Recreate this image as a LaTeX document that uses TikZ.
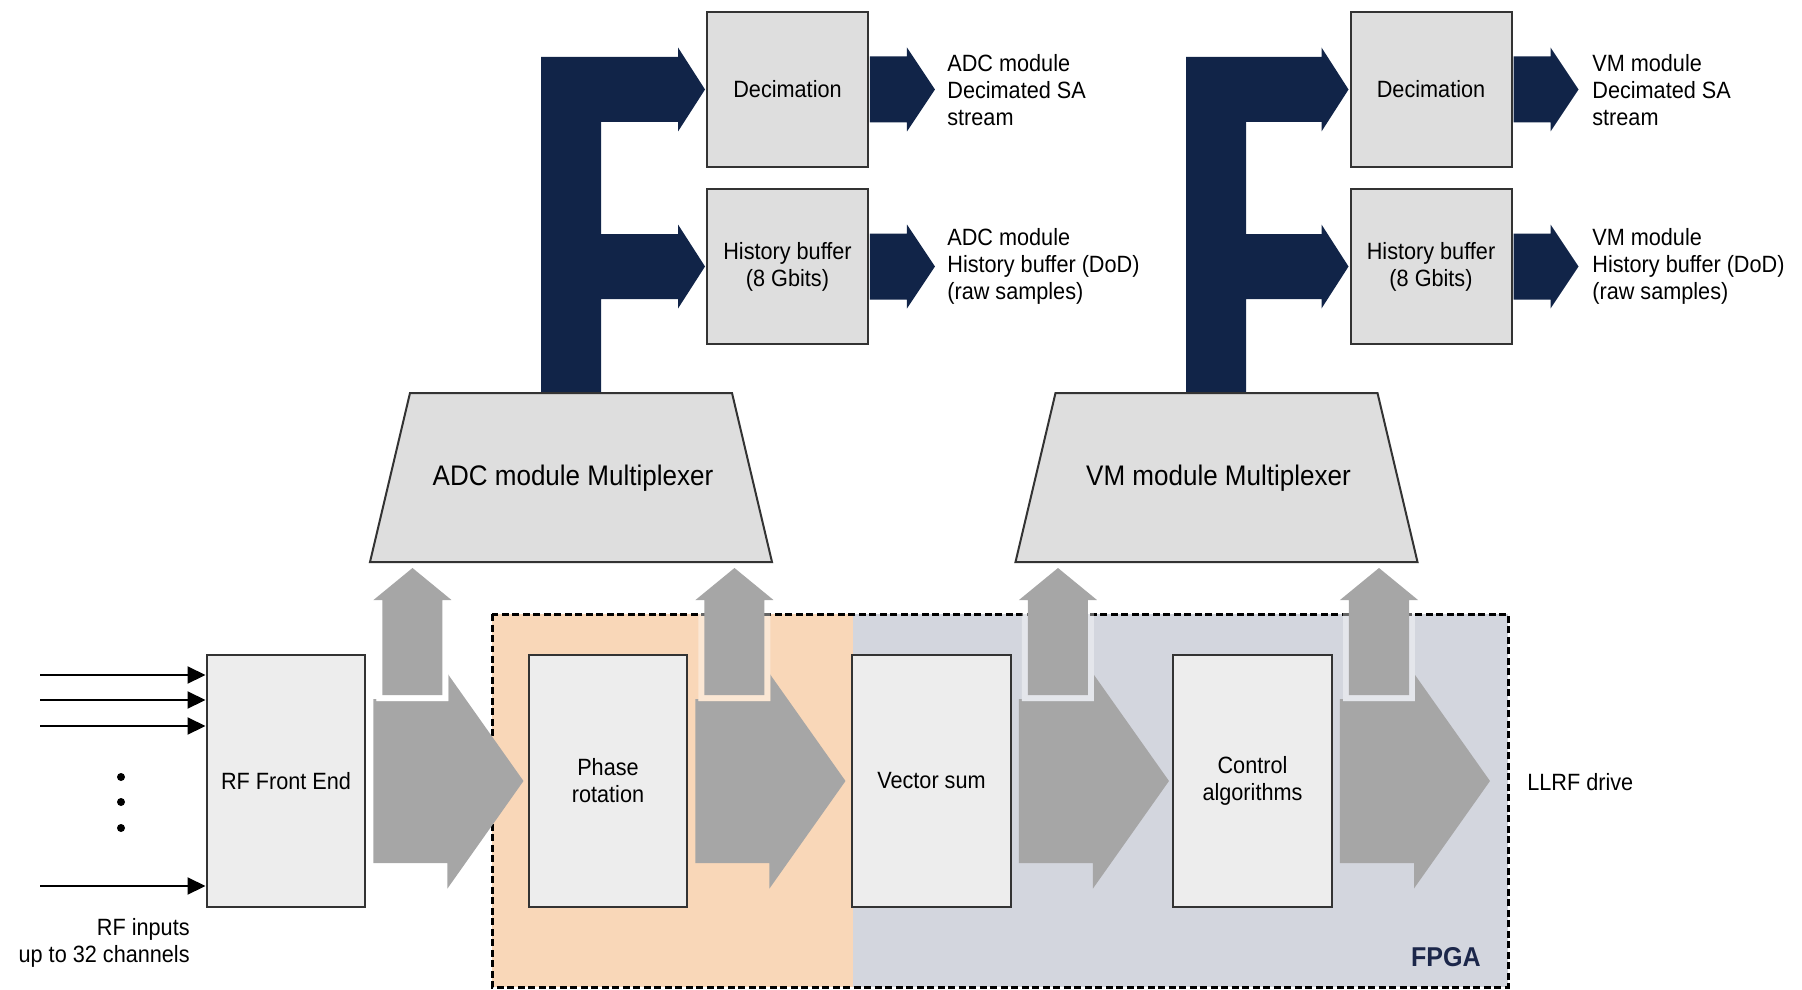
\documentclass[tikz,border=0pt]{standalone}
\usepackage{fontspec}
\setmainfont{Liberation Sans}[FakeStretch=0.92]
\usetikzlibrary{calc,arrows.meta}

\definecolor{boxlight}{RGB}{237,237,237}
\definecolor{boxmid}{RGB}{222,222,222}
\definecolor{flowgray}{RGB}{166,166,166}
\definecolor{navyfeed}{RGB}{17,36,72}
\definecolor{fpgaorange}{RGB}{249,215,184}
\definecolor{fpgablue}{RGB}{211,214,222}
\definecolor{fpgatext}{RGB}{28,39,74}

\newcommand{\lblsize}{\fontsize{13.4pt}{15.4pt}\selectfont}
\newcommand{\muxsize}{\fontsize{16.1pt}{18pt}\selectfont}
\newcommand{\fpgasize}{\fontsize{15.5pt}{18pt}\selectfont}

\tikzset{
  stagebox/.style={draw=black!80, line width=0.04cm, fill=boxlight, minimum width=3.18cm, minimum height=5.04cm, align=center, font=\lblsize},
  storebox/.style={stagebox, fill=boxmid, minimum width=3.22cm, minimum height=3.12cm},
  outlbl/.style={anchor=west, align=left, inner sep=0pt, font=\lblsize},
  inarrow/.style={line width=0.04cm, -{Triangle[length=0.36cm,width=0.34cm]}},
  halo/.style={line width=0.24cm},
}

\begin{document}
\begin{tikzpicture}[x=0.02cm, y=-0.02cm]
    \useasboundingbox (0,0) rectangle (1802,990);

    % FPGA area
    \fill[fpgaorange] (492,614) rectangle (853,987);
    \fill[fpgablue] (853,614) rectangle (1508,987);
    \draw[line width=0.06cm, dash pattern=on 0.14cm off 0.07cm] (492,614) rectangle (1508,987);

    % processing chain
    \node[stagebox] (rf) at (286,781) {RF Front End};
    \node[stagebox] (phase) at (608,781) {Phase\\rotation};
    \node[stagebox] (vsum) at (931.5,781) {Vector sum};
    \node[stagebox] (ctrl) at (1252.5,781) {Control\\algorithms};

    % storage blocks
    \node[storebox] (adcdec) at (787.5,89.5) {Decimation};
    \node[storebox] (adchist) at (787.5,266.5) {History buffer\\(8 Gbits)};
    \node[storebox] (vmdec) at (1431,89.5) {Decimation};
    \node[storebox] (vmhist) at (1431,266.5) {History buffer\\(8 Gbits)};

    % navy feeds from the multiplexers
    \foreach \m/\bx in {adc/541, vm/1186}{
        \fill[navyfeed] (\bx,393) -- (\bx,57)
            -- ($(\m dec.west)+(-28,-32.5)$) -- ++(0,-9.5) -- ($(\m dec.west)+(-1,0)$)
            -- ($(\m dec.west)+(-28,42)$) -- ++(0,-9.5) -- (\bx+60,122)
            -- (\bx+60,234)
            -- ($(\m hist.west)+(-28,-32.5)$) -- ++(0,-9.5) -- ($(\m hist.west)+(-1,0)$)
            -- ($(\m hist.west)+(-28,42)$) -- ++(0,-9.5) -- (\bx+60,299)
            -- (\bx+60,393) -- cycle;
        \foreach \t in {dec,hist}
            \fill[navyfeed] ($(\m\t.east)+(1,-33)$) -- ++(37,0) -- ++(0,-9)
                -- ($(\m\t.east)+(66,0)$) -- ($(\m\t.east)+(38,42)$) -- ++(0,-9)
                -- ($(\m\t.east)+(1,33)$) -- cycle;
    }

    % gray flow arrows (up arrow knocked out of the right one)
    \foreach \b/\bg in {rf/white, phase/fpgaorange, vsum/fpgablue, ctrl/fpgablue}{
        \fill[flowgray] ($(\b.east)+(7,-82)$) -- ++(74,0) -- ++(0,-25.5)
            -- ($(\b.east)+(157,0)$) -- ($(\b.east)+(81,107.5)$) -- ++(0,-25.5)
            -- ($(\b.east)+(7,82)$) -- cycle;
        \path[save path=\uppath] ($(\b.east)+(16,-86)$) -- ++(0,-95) -- ++(-9,0)
            -- ($(\b.east)+(46,-213)$) -- ($(\b.east)+(85,-181)$) -- ++(-9,0)
            -- ($(\b.east)+(76,-86)$) -- cycle;
        \begin{scope}
            \clip (0,616) rectangle (1802,990);
            \draw[halo, \bg, use path=\uppath];
        \end{scope}
        \draw[halo, white, draw opacity=0.4, use path=\uppath];
        \fill[flowgray, use path=\uppath];
    }

    % multiplexers
    \foreach \m/\cx/\txt in {adcmux/571/ADC module Multiplexer, vmmux/1216.5/VM module Multiplexer}{
        \filldraw[draw=black!80, line width=0.04cm, fill=boxmid]
            (\cx-161,393) -- (\cx+161,393) -- (\cx+201,562) -- (\cx-201,562) -- cycle;
        \node[font=\muxsize] (\m) at (\cx+2,478) {\txt};
    }

    % RF inputs
    \foreach \yy [count=\i] in {675,700,726,886}{
        \coordinate (in\i) at (40,\yy);
        \draw[inarrow] (in\i) -- (in\i -| rf.west);
    }
    \foreach \yy in {777,802,828} \fill (121,\yy) circle (0.08cm);
    \node[anchor=east, align=right, inner sep=0pt, font=\lblsize] (rflbl) at (190,943) {RF inputs\\up to 32 channels};

    % outputs
    \node[outlbl] (adcdecout) at (947,90) {ADC module\\Decimated SA\\stream};
    \node[outlbl] (adchistout) at (947,266) {ADC module\\History buffer (DoD)\\(raw samples)};
    \node[outlbl] (vmdecout) at (1592,90) {VM module\\Decimated SA\\stream};
    \node[outlbl] (vmhistout) at (1592,266) {VM module\\History buffer (DoD)\\(raw samples)};
    \node[outlbl] (drive) at (1527,782) {LLRF drive};
    \node[anchor=base east, inner sep=0pt, font=\bfseries\fpgasize, text=fpgatext] (fpga) at (1481,966) {FPGA};

\end{tikzpicture}
\end{document}
